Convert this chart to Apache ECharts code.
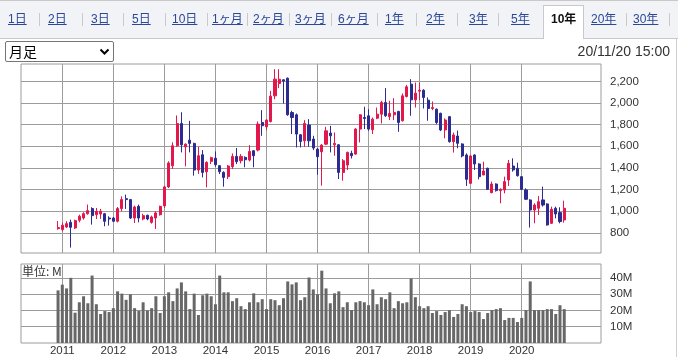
<!DOCTYPE html>
<html><head><meta charset="utf-8">
<script src="https://cdn.jsdelivr.net/npm/echarts@6/dist/echarts.min.js"></script>
<style>
html,body{margin:0;padding:0;width:678px;height:357px;overflow:hidden;background:#fff;font-family:Arial,"Liberation Sans","Noto Sans CJK JP",sans-serif;}
#c{position:absolute;left:0;top:0;width:678px;height:357px;}
#tabs{position:absolute;left:0;top:0;width:678px;height:39px;background:#f2f3f6;border-top:1px solid #c9c9c9;border-bottom:1px solid #c9c9c9;box-sizing:border-box;}
.tab{position:absolute;top:12px;font-size:12px;line-height:15px;color:#2a479a;text-decoration:underline;white-space:nowrap;font-family:Arial,"Liberation Sans","Noto Sans CJK JP",sans-serif;}
.sep{position:absolute;top:13px;width:1px;height:13px;background:#c9c9c9;}
#active{position:absolute;left:543px;top:5px;width:41px;height:34px;background:#fff;border:1px solid #c9c9c9;border-bottom:none;box-sizing:border-box;}
#sel{position:absolute;left:5px;top:41px;width:109px;height:21px;border:1px solid #767676;border-radius:2px;box-sizing:border-box;background:#fff;}
#selt{position:absolute;left:9px;top:43px;font-size:14px;line-height:16px;color:#000;font-family:"Noto Sans CJK JP",sans-serif;}
#chev{position:absolute;left:99px;top:48px;}
#ts{position:absolute;right:8px;top:43px;font-size:14px;line-height:16px;color:#333;}
#rb{position:absolute;left:676px;top:39px;width:1px;height:318px;background:#d0d0d0;}
</style></head>
<body>
<div id="c"></div>
<div id="tabs"></div>
<div id="active"></div>
<div id="sel"></div>
<div id="selt">月足</div>
<svg id="chev" width="11" height="8"><polyline points="1.5,1.5 5.5,5.5 9.5,1.5" fill="none" stroke="#000" stroke-width="2"/></svg>
<div id="ts">20/11/20 15:00</div>
<div id="rb"></div>
<script>
// ---- data (monthly, Dec 2010 .. Nov 2020) ----
const opens = [840,831,855,898,846,917,938,978,1025,969,975,978,938,938,908,1025,1117,1108,938,1046,929,963,898,938,969,1050,1225,1420,1605,1811,1595,1657,1627,1381,1522,1365,1461,1490,1421,1359,1320,1412,1507,1467,1498,1473,1559,1565,1820,1780,1829,2066,2180,2214,2229,1912,1891,1707,1651,1796,1667,1574,1550,1620,1722,1614,1614,1359,1427,1535,1528,1759,1866,1882,1753,1860,1897,2005,1875,1891,1922,1836,2060,2174,2029,2109,2118,2026,1949,1943,1905,1751,1874,1643,1695,1622,1520,1258,1520,1437,1335,1397,1172,1252,1191,1197,1289,1418,1397,1320,1197,1105,1012,1028,1105,1068,889,1028,988,920];
const closes = [850,871,886,852,914,954,978,1006,960,1000,1000,908,929,908,1025,1108,1108,938,1040,938,960,929,948,985,1046,1225,1446,1605,1810,1614,1620,1627,1381,1513,1359,1452,1495,1430,1366,1313,1418,1507,1458,1507,1476,1553,1513,1805,1790,1842,2063,2220,2220,2202,1891,1866,1713,1645,1811,1651,1584,1504,1611,1743,1697,1627,1359,1467,1544,1513,1759,1891,1857,1759,1851,1897,2005,1882,1903,1912,1820,2066,2149,2029,2091,2118,2051,1949,1958,1820,1751,1843,1643,1705,1628,1511,1295,1511,1437,1320,1372,1203,1252,1191,1203,1274,1443,1382,1329,1203,1111,1012,1058,1089,1058,874,1018,975,905,1028];
const lows = [830,815,846,665,837,898,923,969,877,929,930,862,868,905,898,1000,1022,929,892,898,917,917,886,837,960,1030,1215,1391,1595,1544,1415,1544,1329,1345,1313,1221,1436,1412,1344,1227,1298,1390,1436,1442,1406,1461,1406,1553,1697,1750,1820,2035,2137,1995,1882,1713,1590,1590,1596,1596,1565,1338,1237,1611,1544,1513,1298,1283,1381,1488,1522,1636,1759,1743,1713,1851,1811,1872,1842,1842,1734,1829,2051,1882,1958,2026,1949,1836,1934,1805,1740,1674,1634,1542,1582,1498,1234,1252,1382,1295,1335,1197,1166,1182,1074,1166,1234,1366,1320,1197,1105,850,889,966,1043,868,883,935,889,895];
const highs = [910,895,908,923,923,969,991,1062,1037,1031,1022,985,954,948,1040,1138,1154,1114,1052,1062,978,969,960,1000,1052,1235,1462,1637,1885,1915,1627,1835,1633,1596,1565,1461,1504,1553,1427,1369,1427,1534,1584,1528,1507,1611,1565,1829,1934,1851,2112,2312,2312,2220,2235,1928,1903,1713,1842,1851,1697,1584,1620,1780,1789,1728,1620,1482,1550,1559,1768,1897,1965,1943,1866,1958,2020,2137,2020,2045,1928,2088,2167,2220,2189,2189,2127,2051,2014,1949,1910,1858,1880,1726,1745,1628,1535,1520,1526,1443,1458,1403,1274,1258,1212,1320,1474,1489,1449,1326,1212,1111,1074,1142,1228,1074,1043,1043,1037,1098];
const volumes = [32.3,35.8,33.5,40,18.6,25,28.7,24.4,41.4,23.8,17.8,19.6,19,21.4,31.7,30.3,26.5,29.9,21.4,19.8,25,20,21.4,28.7,18.4,28.7,31.1,25.7,33.5,37.2,31.7,20.8,30.3,17.2,29.3,30.3,28.7,23.8,41.4,31.1,31.1,25.7,27.5,22.6,20.8,25,30.5,25,26.9,20.8,26.9,26.3,23.2,27.5,37.8,36,37.2,26.3,28.1,40.2,32.9,29.9,44.4,33.5,24.4,30.5,31.7,22,25,20.2,25,25.7,25,23.2,32.9,23.8,28.1,26.9,31.1,21.4,25.7,24.4,25,39.6,28.1,22.6,21.4,22.6,18.4,19.6,17.2,19,20.2,16,17.8,23.8,22.6,19,19.6,19,14.7,18.4,20.2,20.8,21.4,14.1,15.4,15.4,12.9,15.4,20.2,37.8,20.2,20.2,20.2,20.8,20.8,17.8,23.2,20.8];
const yearLabels = ['2011','2012','2013','2014','2015','2016','2017','2018','2019','2020'];
const priceTicks = [800,1000,1200,1400,1600,1800,2000,2200];
const volumeTicks = [10,20,30,40];

// month categories
const months = [];
for (let k = 0; k < opens.length; k++) {
  const y = 2010 + Math.floor((11 + k) / 12), m = (11 + k) % 12 + 1;
  months.push(y + '/' + (m < 10 ? '0' + m : m));
}
const yearIdx = yearLabels.map(y => months.indexOf(y + '/01'));

// header tabs
const tabs = [['1日',8],['2日',48],['3日',91],['5日',132],['10日',172],['1ヶ月',212],['2ヶ月',253],['3ヶ月',295],['6ヶ月',338],['1年',385],['2年',426],['3年',469],['5年',511],['10年',551],['20年',591],['30年',633]];
const seps = [39,82,123,165,207,247,289,331,377,416,457,498,626,669];
const tb = document.getElementById('tabs');
seps.forEach(x => { const d = document.createElement('div'); d.className = 'sep'; d.style.left = x + 'px'; document.body.appendChild(d); });
tabs.forEach(([t,x]) => { const d = document.createElement('div'); d.className = 'tab'; d.textContent = t; d.style.left = x + 'px';
  if (t === '10年') { d.style.color = '#111'; d.style.fontWeight = 'bold'; d.style.textDecoration = 'none'; }
  document.body.appendChild(d); });

const chart = echarts.init(document.getElementById('c'));
const FONT = 'Arial, "Liberation Sans", sans-serif';
const xMin = -8.71, xMax = 127.64;
const grid = '#9c9c9c';
const candleData = months.map((m, i) => [i, opens[i], closes[i], lows[i], highs[i]]);
const volData = months.map((m, i) => [i, volumes[i]]);
const xBase = (gi, showLabel) => ({
  type: 'value', gridIndex: gi, min: xMin, max: xMax,
  axisLine: {show: false},
  axisTick: {show: false, customValues: yearIdx},
  axisLabel: {show: showLabel, customValues: yearIdx, margin: 2, fontSize: 11.5, fontFamily: FONT, color: '#333',
    formatter: v => yearLabels[yearIdx.indexOf(Math.round(v))] || ''},
  splitLine: {show: true, lineStyle: {color: grid, width: 1}}
});
chart.setOption({
  animation: false,
  backgroundColor: 'transparent',
  textStyle: {fontFamily: FONT},
  grid: [
    {left: 21, top: 64, width: 580, height: 189, show: true, borderColor: grid, borderWidth: 1},
    {left: 21, top: 264, width: 580, height: 80, show: true, borderColor: grid, borderWidth: 1}
  ],
  xAxis: [xBase(0, false), xBase(1, true)],
  yAxis: [
    {type: 'value', gridIndex: 0, position: 'right', min: 615, max: 2360,
     axisLine: {show: false},
     axisTick: {show: true, customValues: priceTicks, length: 5, lineStyle: {color: grid}},
     axisLabel: {customValues: priceTicks, margin: 9, fontSize: 11.5, color: '#333', fontFamily: FONT,
       formatter: v => v.toLocaleString('en-US')},
     splitLine: {show: true, lineStyle: {color: grid, width: 1}}},
    {type: 'value', gridIndex: 1, position: 'right', min: 0, max: 48.5,
     axisLine: {show: false},
     axisTick: {show: true, customValues: volumeTicks, length: 5, lineStyle: {color: grid}},
     axisLabel: {customValues: volumeTicks, margin: 9, fontSize: 11.5, color: '#333', fontFamily: FONT,
       formatter: v => v + 'M'},
     splitLine: {show: true, lineStyle: {color: grid, width: 1}}}
  ],
  series: [
    {type: 'candlestick', xAxisIndex: 0, yAxisIndex: 0, data: candleData,
     encode: {x: 0, y: [1, 2, 3, 4]}, barWidth: 2.6,
     itemStyle: {color: '#e3174c', color0: '#2b2b92', borderColor: '#e3174c', borderColor0: '#2b2b92', borderWidth: 1}},
    {type: 'bar', xAxisIndex: 1, yAxisIndex: 1, data: volData, barWidth: 3,
     itemStyle: {color: '#676767'}}
  ],
  graphic: [
    {type: 'text', left: 22, top: 265, style: {text: '単位: M', font: '12px "Noto Sans CJK JP", sans-serif', fill: '#333'}}
  ]
});
</script>
</body></html>
